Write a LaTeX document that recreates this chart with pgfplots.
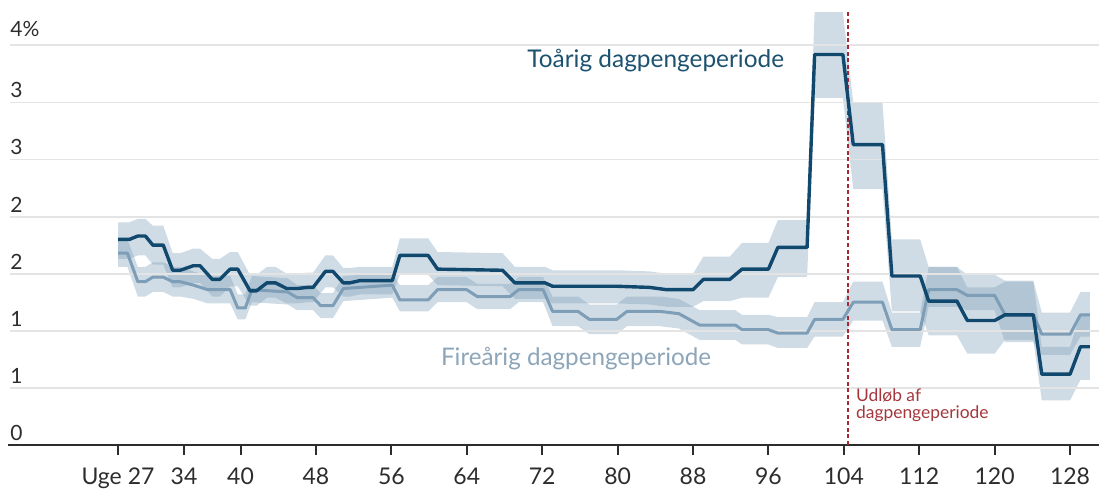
\documentclass[border=0pt]{standalone}
\usepackage{pgfplots}
\pgfplotsset{compat=1.18}
\usepackage{pgfplotstable}
\usepgfplotslibrary{fillbetween}
\usepackage{fontspec}
\setmainfont{Lato}
\definecolor{darkline}{RGB}{16,72,110}
\definecolor{lightline}{RGB}{125,158,182}
\definecolor{bandc}{RGB}{120,155,180}
\definecolor{redline}{RGB}{165,40,50}
\definecolor{redtext}{RGB}{165,55,60}
\definecolor{toarig}{RGB}{28,82,112}
\definecolor{firearig}{RGB}{140,165,185}
\definecolor{axisc}{RGB}{45,45,45}
\definecolor{gridc}{RGB}{228,228,228}

\pgfplotstableread{
x y lo hi
27.0 1.80 1.63 1.95
28.2 1.80 1.63 1.95
29.1 1.83 1.66 1.98
29.9 1.83 1.66 1.98
30.7 1.75 1.58 1.92
31.8 1.75 1.58 1.92
32.8 1.53 1.38 1.68
33.6 1.53 1.38 1.68
35.0 1.57 1.42 1.72
35.7 1.57 1.42 1.72
37.0 1.45 1.30 1.63
37.8 1.45 1.30 1.63
38.9 1.54 1.39 1.69
39.7 1.54 1.39 1.69
41.0 1.35 1.22 1.49
41.7 1.35 1.22 1.49
42.8 1.42 1.29 1.56
43.7 1.42 1.29 1.56
44.9 1.37 1.24 1.50
46.0 1.37 1.24 1.50
47.1 1.38 1.25 1.51
47.7 1.38 1.25 1.51
49.0 1.52 1.38 1.66
49.8 1.52 1.38 1.66
50.9 1.42 1.30 1.55
51.6 1.42 1.30 1.55
52.7 1.44 1.32 1.56
56.1 1.44 1.32 1.56
56.9 1.66 1.49 1.81
59.9 1.66 1.49 1.81
60.9 1.54 1.40 1.69
67.8 1.53 1.39 1.68
69.1 1.42 1.28 1.56
72.3 1.42 1.28 1.56
73.1 1.39 1.24 1.53
79.9 1.39 1.24 1.53
83.4 1.38 1.23 1.52
85.2 1.36 1.21 1.50
88.0 1.36 1.21 1.50
89.1 1.45 1.26 1.65
91.9 1.45 1.26 1.65
93.2 1.54 1.29 1.77
96.0 1.54 1.29 1.77
97.0 1.73 1.47 1.97
100.1 1.73 1.47 1.97
100.9 3.42 3.04 3.79
103.9 3.42 3.04 3.79
105.0 2.63 2.24 3.00
108.1 2.63 2.24 3.00
109.1 1.48 1.17 1.80
112.1 1.48 1.17 1.80
113.0 1.26 0.96 1.56
116.0 1.26 0.96 1.56
117.1 1.09 0.80 1.38
120.0 1.09 0.80 1.38
121.1 1.14 0.92 1.43
124.1 1.14 0.92 1.43
125.0 0.62 0.39 0.86
128.0 0.62 0.39 0.86
129.1 0.86 0.57 1.15
130.1 0.86 0.57 1.15
}\toarig

\pgfplotstableread{
x y lo hi
27.0 1.68 1.56 1.80
28.0 1.68 1.56 1.80
29.1 1.43 1.30 1.56
29.9 1.43 1.30 1.56
30.7 1.47 1.34 1.60
31.8 1.47 1.34 1.60
32.8 1.43 1.30 1.56
33.6 1.43 1.30 1.56
35.0 1.40 1.28 1.52
36.5 1.36 1.24 1.48
38.9 1.36 1.24 1.48
39.7 1.20 1.10 1.32
40.5 1.20 1.10 1.32
41.2 1.36 1.25 1.48
45.0 1.34 1.23 1.46
46.0 1.29 1.18 1.40
47.7 1.29 1.18 1.40
48.5 1.22 1.11 1.33
49.8 1.22 1.11 1.33
50.9 1.37 1.26 1.48
56.1 1.40 1.29 1.51
56.9 1.27 1.17 1.40
59.9 1.27 1.17 1.40
60.9 1.36 1.25 1.47
64.0 1.36 1.25 1.47
65.1 1.30 1.19 1.41
68.6 1.30 1.19 1.41
69.5 1.36 1.25 1.47
72.1 1.36 1.25 1.47
73.1 1.17 1.04 1.30
75.8 1.17 1.04 1.30
77.0 1.10 0.97 1.23
79.9 1.10 0.97 1.23
81.0 1.17 1.04 1.30
84.5 1.17 1.04 1.30
86.5 1.15 1.02 1.28
88.7 1.05 0.92 1.18
92.5 1.05 0.92 1.18
93.2 1.01 0.88 1.14
96.0 1.01 0.88 1.14
97.0 0.98 0.85 1.12
100.1 0.98 0.85 1.12
100.9 1.10 0.95 1.25
103.9 1.10 0.95 1.25
105.0 1.25 1.09 1.43
108.1 1.25 1.09 1.43
109.1 1.01 0.86 1.16
112.1 1.01 0.86 1.16
113.0 1.36 1.21 1.56
116.0 1.36 1.21 1.56
117.1 1.31 1.18 1.49
120.0 1.31 1.18 1.49
121.1 1.14 0.90 1.44
124.1 1.14 0.90 1.44
125.0 0.97 0.79 1.16
128.0 0.97 0.79 1.16
129.1 1.14 0.95 1.34
130.1 1.14 0.95 1.34
}\firearig

\begin{document}
\begin{tikzpicture}
\begin{axis}[
  at={(0,0)}, anchor=south west,
  scale only axis, width=547pt, height=222.5pt,
  xmin=15.01, xmax=131.07, ymin=0, ymax=3.897,
  axis line style={draw=none},
  xtick={27,34,40,48,56,64,72,80,88,96,104,112,120,128},
  xticklabels={Uge 27,34,40,48,56,64,72,80,88,96,104,112,120,128},
  xtick pos=left, tick align=outside, major tick length=5pt,
  tick style={line width=1pt, color=axisc},
  ytick=\empty,
  xticklabel style={font=\fontsize{11.5}{13}\selectfont, text=axisc, anchor=base, yshift=-14.8pt},
  clip=false,
]
% grid lines
\draw[gridc, line width=0.9pt] (axis cs:15.54,0.5) -- (axis cs:131.07,0.5);
\draw[gridc, line width=0.9pt] (axis cs:15.54,1.0) -- (axis cs:131.07,1.0);
\draw[gridc, line width=0.9pt] (axis cs:15.54,1.5) -- (axis cs:131.07,1.5);
\draw[gridc, line width=0.9pt] (axis cs:15.54,2.0) -- (axis cs:131.07,2.0);
\draw[gridc, line width=0.9pt] (axis cs:15.54,2.5) -- (axis cs:131.07,2.5);
\draw[gridc, line width=0.9pt] (axis cs:15.54,3.0) -- (axis cs:131.07,3.0);
\draw[gridc, line width=0.9pt] (axis cs:15.54,3.5) -- (axis cs:131.07,3.5);
% bands
\addplot[name path=dhi, draw=none, forget plot] table[x=x, y=hi] {\toarig};
\addplot[name path=dlo, draw=none, forget plot] table[x=x, y=lo] {\toarig};
\addplot[fill=bandc, fill opacity=0.35, draw=none, forget plot] fill between[of=dhi and dlo];
\addplot[name path=fhi, draw=none, forget plot] table[x=x, y=hi] {\firearig};
\addplot[name path=flo, draw=none, forget plot] table[x=x, y=lo] {\firearig};
\addplot[fill=bandc, fill opacity=0.35, draw=none, forget plot] fill between[of=fhi and flo];
% x axis line
\draw[line width=1pt, color=axisc] (axis cs:15.3,0) -- (axis cs:131.07,0);
% expiry line
\draw[redline, line width=0.9pt, dash pattern=on 2pt off 1.3pt] (axis cs:104.4,0) -- (axis cs:104.4,3.80);
% lines
\addplot[lightline, line width=1.5pt, line join=round] table[x=x, y=y] {\firearig};
\addplot[darkline, line width=1.7pt, line join=round] table[x=x, y=y] {\toarig};
% y labels
\node[anchor=base west, inner sep=0pt, font=\fontsize{10.5}{12}\selectfont, text=axisc] at (axis cs:15.54,0.04) {0};
\node[anchor=base west, inner sep=0pt, font=\fontsize{10.5}{12}\selectfont, text=axisc] at (axis cs:15.54,0.54) {1};
\node[anchor=base west, inner sep=0pt, font=\fontsize{10.5}{12}\selectfont, text=axisc] at (axis cs:15.54,1.04) {1};
\node[anchor=base west, inner sep=0pt, font=\fontsize{10.5}{12}\selectfont, text=axisc] at (axis cs:15.54,1.54) {2};
\node[anchor=base west, inner sep=0pt, font=\fontsize{10.5}{12}\selectfont, text=axisc] at (axis cs:15.54,2.04) {2};
\node[anchor=base west, inner sep=0pt, font=\fontsize{10.5}{12}\selectfont, text=axisc] at (axis cs:15.54,2.54) {3};
\node[anchor=base west, inner sep=0pt, font=\fontsize{10.5}{12}\selectfont, text=axisc] at (axis cs:15.54,3.04) {3};
\node[anchor=base west, inner sep=0pt, font=\fontsize{10.5}{12}\selectfont, text=axisc] at (axis cs:15.54,3.58) {4\%};
% annotations
\node[anchor=base west, inner sep=0pt, font=\fontsize{12.2}{14}\selectfont, text=toarig] at (axis cs:70.39,3.31) {Toårig dagpengeperiode};
\node[anchor=base west, inner sep=0pt, font=\fontsize{12.1}{14}\selectfont, text=firearig] at (axis cs:61.23,0.70) {Fireårig dagpengeperiode};
\node[anchor=base west, inner sep=0pt, font=\fontsize{8.7}{10}\selectfont, text=redtext] at (axis cs:105.26,0.377) {Udløb af};
\node[anchor=base west, inner sep=0pt, font=\fontsize{8.7}{10}\selectfont, text=redtext] at (axis cs:105.26,0.228) {dagpengeperiode};
\end{axis}
\pgfresetboundingbox
\path[use as bounding box] (-2.5pt,-22.5pt) rectangle (547pt,222.5pt);
\end{tikzpicture}
\end{document}
